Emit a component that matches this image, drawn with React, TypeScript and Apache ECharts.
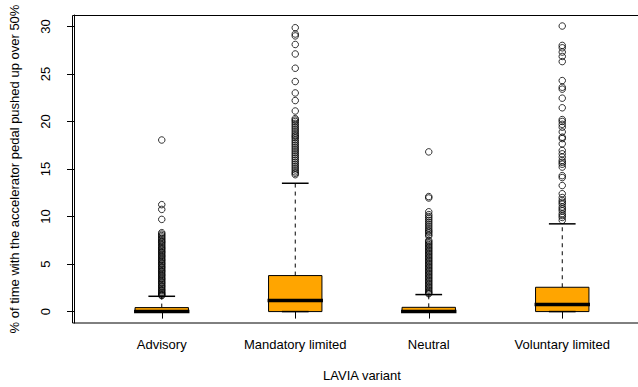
import React, { useEffect, useRef } from "react";
import * as echarts from "echarts";

const categories = ["Advisory", "Mandatory limited", "Neutral", "Voluntary limited"];
const lowerWhisker = [0, 0, 0, 0];
const q1Values = [0, 0, 0, 0];
const medianValues = [0, 1.16, 0, 0.74];
const q3Values = [0.42, 3.79, 0.45, 2.56];
const upperWhisker = [1.61, 13.5, 1.79, 9.23];

const advisoryOutliers = [
  18.05, 11.25, 10.75, 9.7, 8.3, 8.15, 8.0, 7.85, 7.7, 7.55, 7.4, 7.3, 7.15, 7.0, 6.85, 6.7, 6.6, 6.45,
  6.3, 6.2, 6.05, 5.9, 5.8, 5.65, 5.5, 5.4, 5.25, 5.1, 5.0, 4.85, 4.7, 4.6, 4.45, 4.3, 4.2, 4.05, 3.9,
  3.8, 3.65, 3.5, 3.4, 3.25, 3.1, 3.0, 2.85, 2.7, 2.6, 2.45, 2.3, 2.2, 2.05, 1.95, 1.85, 1.75, 1.68,
];
const mandatoryOutliers = [
  29.86, 29.2, 29.0, 28.1, 27.1, 25.6, 24.2, 23.0, 22.2, 21.1, 20.3, 20.15, 20.0, 19.8, 19.6, 19.4, 19.2,
  19.0, 18.8, 18.6, 18.45, 18.3, 18.1, 17.9, 17.7, 17.5, 17.3, 17.1, 16.9, 16.7, 16.5, 16.3, 16.1, 15.9,
  15.7, 15.5, 15.3, 15.1, 14.9, 14.7, 14.55, 14.4,
];
const neutralOutliers = [
  16.8, 12.1, 11.95, 10.5, 10.2, 10.0, 9.8, 9.6, 9.4, 9.2, 9.0, 8.8, 8.6, 8.45, 8.3, 8.1, 7.95, 7.5, 7.35,
  7.2, 7.05, 6.9, 6.75, 6.6, 6.45, 6.3, 6.15, 6.0, 5.85, 5.7, 5.55, 5.4, 5.25, 5.1, 4.95, 4.8, 4.65, 4.5,
  4.35, 4.2, 4.05, 3.9, 3.75, 3.6, 3.45, 3.3, 3.15, 3.0, 2.85, 2.7, 2.55, 2.4, 2.25, 2.1, 1.98, 1.88,
];
const voluntaryOutliers = [
  30.04, 28.0, 27.75, 27.3, 26.84, 26.3, 24.3, 23.6, 23.4, 22.45, 21.44, 20.2, 20.0, 19.7, 19.4, 18.9,
  18.35, 18.2, 17.65, 16.95, 16.6, 16.25, 15.9, 15.7, 15.5, 15.2, 14.3, 14.1, 13.26, 12.4, 12.0, 11.7,
  11.5, 11.3, 11.0, 10.8, 10.6, 10.3, 10.1, 9.9, 9.6,
];

const yTicks = [0, 5, 10, 15, 20, 25, 30];

const FONT = "'Liberation Sans', Arial, sans-serif";

export default function App() {
  const ref = useRef<HTMLDivElement>(null);
  useEffect(() => {
    if (!ref.current) return;
    const chart = echarts.init(ref.current, null, { renderer: "svg" });
    const boxData = categories.map((_, i) => [
      i,
      lowerWhisker[i],
      q1Values[i],
      medianValues[i],
      q3Values[i],
      upperWhisker[i],
    ]);
    const outlierData: number[][] = [];
    [advisoryOutliers, mandatoryOutliers, neutralOutliers, voluntaryOutliers].forEach((arr, i) => {
      arr.forEach((v) => outlierData.push([i, v]));
    });

    const option: any = {
      animation: false,
      backgroundColor: "#fff",
      textStyle: { fontFamily: FONT, color: "#000" },
      grid: { left: 93, right: 9, top: 15, bottom: 64, containLabel: false },
      graphic: [
        {
          type: "rect",
          shape: { x: 72.5, y: 15.5, width: 600, height: 307.5 },
          style: { fill: "none", stroke: "#000", lineWidth: 1 },
          silent: true,
          z: 0,
        },
      ],
      xAxis: {
        type: "category",
        data: categories,
        boundaryGap: true,
        axisLine: { show: false },
        axisTick: { show: true, alignWithLabel: true, length: 7, lineStyle: { color: "#000", width: 1 } },
        axisLabel: { color: "#000", fontSize: 13, fontFamily: FONT, margin: 15, interval: 0 },
        splitLine: { show: false },
        name: "LAVIA variant",
        nameLocation: "middle",
        nameGap: 46,
        nameTextStyle: { color: "#000", fontSize: 13, fontFamily: FONT },
      },
      yAxis: {
        type: "value",
        min: -1.2,
        max: 31.2,
        offset: 21,
        axisLine: { show: true, lineStyle: { color: "#000", width: 1 } },
        axisTick: { show: true, length: 7, customValues: yTicks, lineStyle: { color: "#000", width: 1 } },
        axisLabel: {
          color: "#000",
          fontSize: 13,
          fontFamily: FONT,
          rotate: 90,
          margin: 22,
          customValues: yTicks,
        },
        splitLine: { show: false },
        name: "% of time with the accelerator pedal pushed up over 50%",
        nameLocation: "middle",
        nameGap: 53,
        nameRotate: 90,
        nameTextStyle: { color: "#000", fontSize: 13, fontFamily: FONT },
      },
      series: [
        {
          type: "custom",
          data: boxData,
          encode: { x: 0, y: [1, 2, 3, 4, 5] },
          z: 2,
          renderItem: (params: any, api: any) => {
            const idx = api.value(0);
            const lo = api.coord([idx, api.value(1)]);
            const q1 = api.coord([idx, api.value(2)]);
            const med = api.coord([idx, api.value(3)]);
            const q3 = api.coord([idx, api.value(4)]);
            const hi = api.coord([idx, api.value(5)]);
            const bw = api.size([1, 0])[0] * 0.4;
            const x = lo[0];
            const sw = bw / 4;
            return {
              type: "group",
              children: [
                {
                  type: "line",
                  shape: { x1: x, y1: q3[1], x2: x, y2: hi[1] },
                  style: { stroke: "#000", lineWidth: 1, lineDash: [4, 4] },
                },
                {
                  type: "line",
                  shape: { x1: x, y1: q1[1], x2: x, y2: lo[1] },
                  style: { stroke: "#000", lineWidth: 1, lineDash: [4, 4] },
                },
                {
                  type: "line",
                  shape: { x1: x - sw, y1: hi[1], x2: x + sw, y2: hi[1] },
                  style: { stroke: "#000", lineWidth: 1.5 },
                },
                {
                  type: "rect",
                  shape: { x: x - bw / 2, y: q3[1], width: bw, height: q1[1] - q3[1] },
                  style: { fill: "#FFA500", stroke: "#000", lineWidth: 1 },
                },
                {
                  type: "line",
                  shape: { x1: x - sw, y1: lo[1], x2: x + sw, y2: lo[1] },
                  style: { stroke: "#000", lineWidth: 1.5 },
                },
                {
                  type: "line",
                  shape: { x1: x - bw / 2 - 1, y1: med[1], x2: x + bw / 2 + 1, y2: med[1] },
                  style: { stroke: "#000", lineWidth: 3.5 },
                },
              ],
            };
          },
        },
        {
          type: "scatter",
          data: outlierData,
          symbol: "circle",
          symbolSize: 6.5,
          z: 3,
          itemStyle: { color: "rgba(0,0,0,0)", borderColor: "#000", borderWidth: 1 },
        },
      ],
    };
    chart.setOption(option);
    return () => chart.dispose();
  }, []);
  return (
    <div
      ref={ref}
      style={{ position: "fixed", left: 0, top: 0, width: 638, height: 387, background: "#fff" }}
    />
  );
}
